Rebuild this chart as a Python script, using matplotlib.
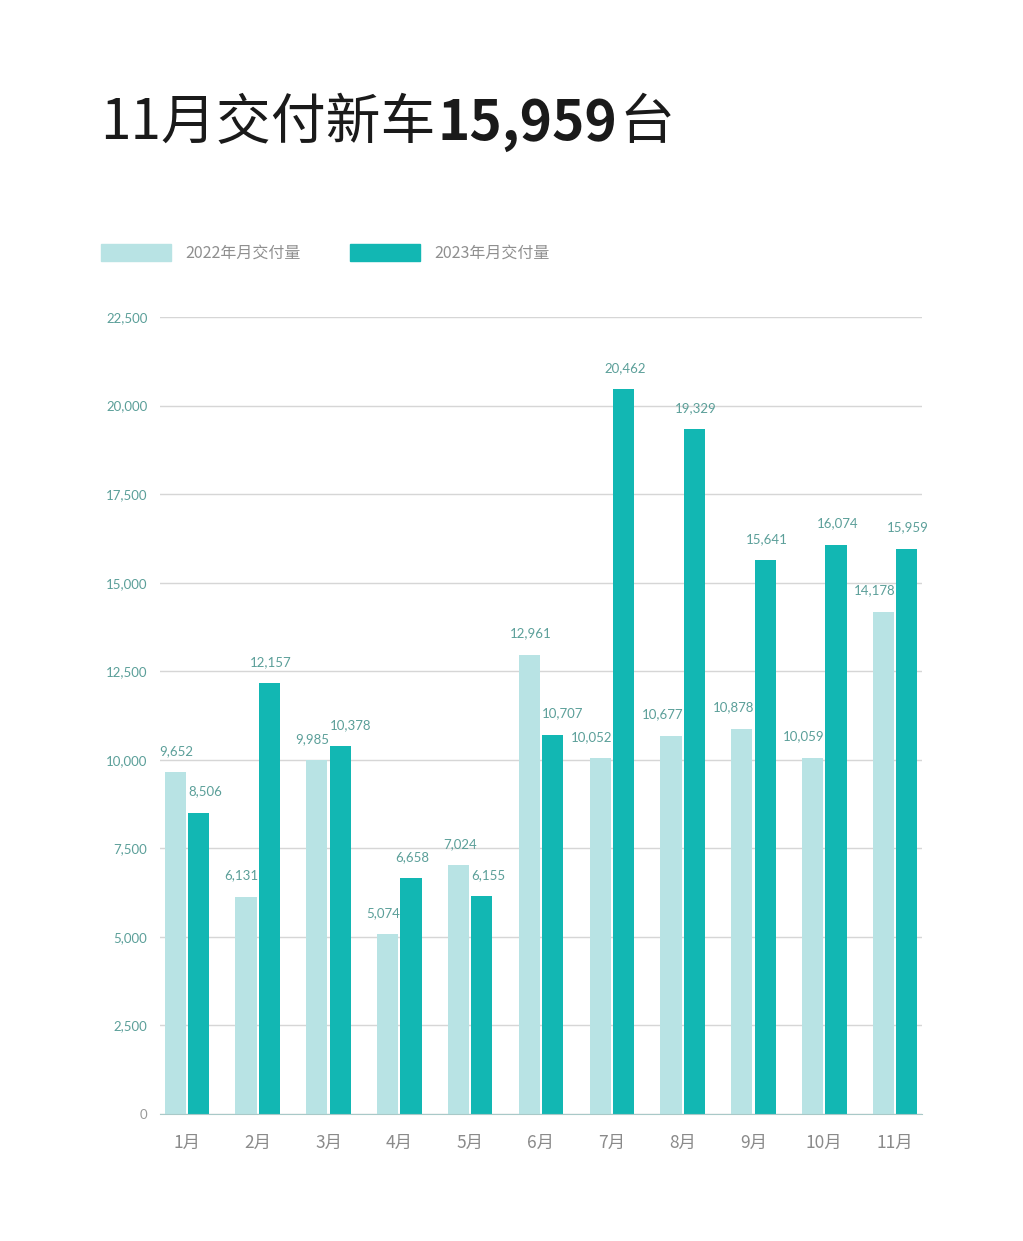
import matplotlib
matplotlib.use('Agg')
import matplotlib.pyplot as plt
import numpy as np
from matplotlib.patches import Rectangle

plt.rcParams['font.family'] = ['Noto Sans CJK SC', 'DejaVu Sans']

# monthly deliveries
months = ['1月', '2月', '3月', '4月', '5月', '6月', '7月', '8月', '9月', '10月', '11月']
deliv_2022 = [9652, 6131, 9985, 5074, 7024, 12961, 10052, 10677, 10878, 10059, 14178]
deliv_2023 = [8506, 12157, 10378, 6658, 6155, 10707, 20462, 19329, 15641, 16074, 15959]
series_names = ['2022年月交付量', '2023年月交付量']
yticks = [0, 2500, 5000, 7500, 10000, 12500, 15000, 17500, 20000, 22500]

light = '#b8e3e4'
dark = '#12b7b3'
label_col = '#5b9f99'

fig = plt.figure(figsize=(10.23, 12.41), dpi=100)
ax = fig.add_axes([160 / 1023, 127 / 1241, 762 / 1023, 797 / 1241])

x = np.arange(len(months))
w = 0.30
off = 0.165
b1 = ax.bar(x - off, deliv_2022, width=w, color=light, zorder=3)
b2 = ax.bar(x + off, deliv_2023, width=w, color=dark, zorder=3)

# value labels: push a label sideways when the neighbouring bar would cover it
lab_kw = dict(textcoords='offset points', va='bottom', fontsize=9.5,
              color=label_col, family='Lato', zorder=5)
for b, v, other in zip(b1, deliv_2022, deliv_2023):
    if other >= v:
        ax.annotate(f'{v:,}', (b.get_x() + b.get_width(), v), xytext=(1, 11),
                    ha='right', **lab_kw)
    else:
        ax.annotate(f'{v:,}', (b.get_x() + b.get_width() / 2, v), xytext=(1, 11),
                    ha='center', **lab_kw)
for b, v, other in zip(b2, deliv_2023, deliv_2022):
    if other >= v - 1000:
        ax.annotate(f'{v:,}', (b.get_x(), v), xytext=(0, 11),
                    ha='left', **lab_kw)
    else:
        ax.annotate(f'{v:,}', (b.get_x() + b.get_width() / 2, v), xytext=(1, 11),
                    ha='center', **lab_kw)

ax.set_xlim(-0.38, 10.38)
ax.set_ylim(0, 22500)
ax.set_yticks(yticks)
ax.set_yticklabels([f'{t:,}' for t in yticks], family='Lato', fontsize=9.5)
for t, lab in zip(yticks, ax.get_yticklabels()):
    lab.set_color('#999999' if t == 0 else label_col)
ax.set_xticks(x)
ax.set_xticklabels(months, fontsize=12.5, color='#8a8a8a')
ax.tick_params(axis='both', length=0)
ax.tick_params(axis='y', pad=9)
ax.tick_params(axis='x', pad=14)
ax.grid(axis='y', color='#d6d6d6', lw=1, zorder=0)
for s in ('top', 'right', 'left'):
    ax.spines[s].set_visible(False)
ax.spines['bottom'].set_color('#a9c9c8')
ax.spines['bottom'].set_zorder(4)

# legend drawn as patches in figure pixels
H = 1241
for px, col, name in ((101, light, series_names[0]), (350, dark, series_names[1])):
    fig.patches.append(Rectangle((px / 1023, (H - 261) / H), 70 / 1023, 17 / H,
                                 transform=fig.transFigure, color=col))
    fig.text((px + 84) / 1023, (H - 253) / H, name, fontsize=11.5,
             color='#8f8f8f', va='center', ha='left')

# title in three pieces
fig.canvas.draw()
r = fig.canvas.get_renderer()
ty = (H - 123) / H
xpos = 100 / 1023
parts = [('11月交付新车', 'normal'), ('15,959', 'bold'), ('台', 'normal')]
for txt, wt in parts:
    t = fig.text(xpos, ty, txt, fontsize=39.5, fontweight=wt, color='#1a1a1a',
                 va='center', ha='left')
    bb = t.get_window_extent(renderer=r)
    xpos += bb.width / 1023 + 2 / 1023

fig.savefig('out.png', dpi=100, facecolor='white')
